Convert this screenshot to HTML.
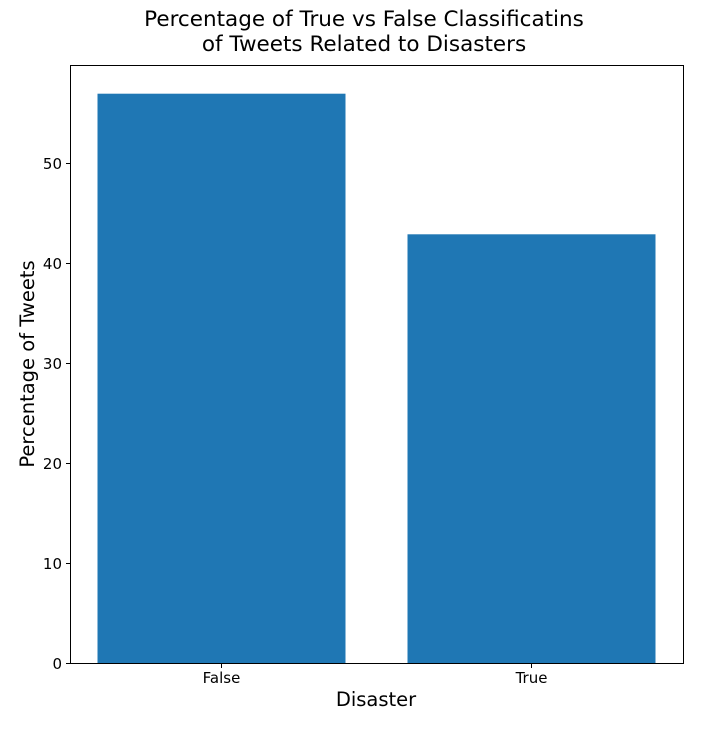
<!DOCTYPE html>
<html><head><meta charset="utf-8"><style>
body{margin:0;background:#fff;}
svg text{font-family:"DejaVu Sans","Liberation Sans",sans-serif;fill:#000;}
</style></head><body>
<svg id="chart" width="712" height="727" viewBox="0 0 712 727">
<text x="364" y="26" font-size="21.5" text-anchor="middle">Percentage of True vs False Classificatins</text>
<text x="364" y="51" font-size="21.5" text-anchor="middle">of Tweets Related to Disasters</text>
<g id="bars"></g>
<g id="yticks"></g>
<g id="xticks"></g>
<rect x="70.5" y="65.5" width="613" height="598" fill="none" stroke="#000" stroke-width="1"/>
<text x="376" y="706" font-size="19.5" text-anchor="middle">Disaster</text>
<text transform="translate(34,364) rotate(-90)" font-size="19.5" text-anchor="middle">Percentage of Tweets</text>
</svg>
<script>
const categories=["False","True"];
const values=[57.03,42.97];
const yTicks=[0,10,20,30,40,50];
const NS="http://www.w3.org/2000/svg";
function xs(i){return 221.5+310*i;}
function ys(v){return 664-10*v;}
const bars=document.getElementById('bars');
const yt=document.getElementById('yticks');
const xt=document.getElementById('xticks');
categories.forEach((c,i)=>{
  const r=document.createElementNS(NS,'rect');
  r.setAttribute('x',xs(i)-124);r.setAttribute('width',248);
  r.setAttribute('y',ys(values[i]));r.setAttribute('height',ys(0)-ys(values[i]));
  r.setAttribute('fill','#1f77b4');
  
  
  bars.appendChild(r);
  const l=document.createElementNS(NS,'line');
  l.setAttribute('x1',xs(i));l.setAttribute('x2',xs(i));l.setAttribute('y1',664);l.setAttribute('y2',668);l.setAttribute('stroke','#000');
  
  
  xt.appendChild(l);
  const t=document.createElementNS(NS,'text');
  t.setAttribute('x',xs(i));t.setAttribute('y',683);t.setAttribute('font-size','15');t.setAttribute('text-anchor','middle');
  t.textContent=c;
  
  
  xt.appendChild(t);
});
yTicks.forEach(v=>{
  const l=document.createElementNS(NS,'line');
  l.setAttribute('x1',66);l.setAttribute('x2',70);l.setAttribute('y1',ys(v)-0.5);l.setAttribute('y2',ys(v)-0.5);l.setAttribute('stroke','#000');
  
  
  yt.appendChild(l);
  const t=document.createElementNS(NS,'text');
  t.setAttribute('x',62);t.setAttribute('y',ys(v)+5);t.setAttribute('font-size','15');t.setAttribute('text-anchor','end');
  t.textContent=v;
  
  
  yt.appendChild(t);
});
</script>
</body></html>
